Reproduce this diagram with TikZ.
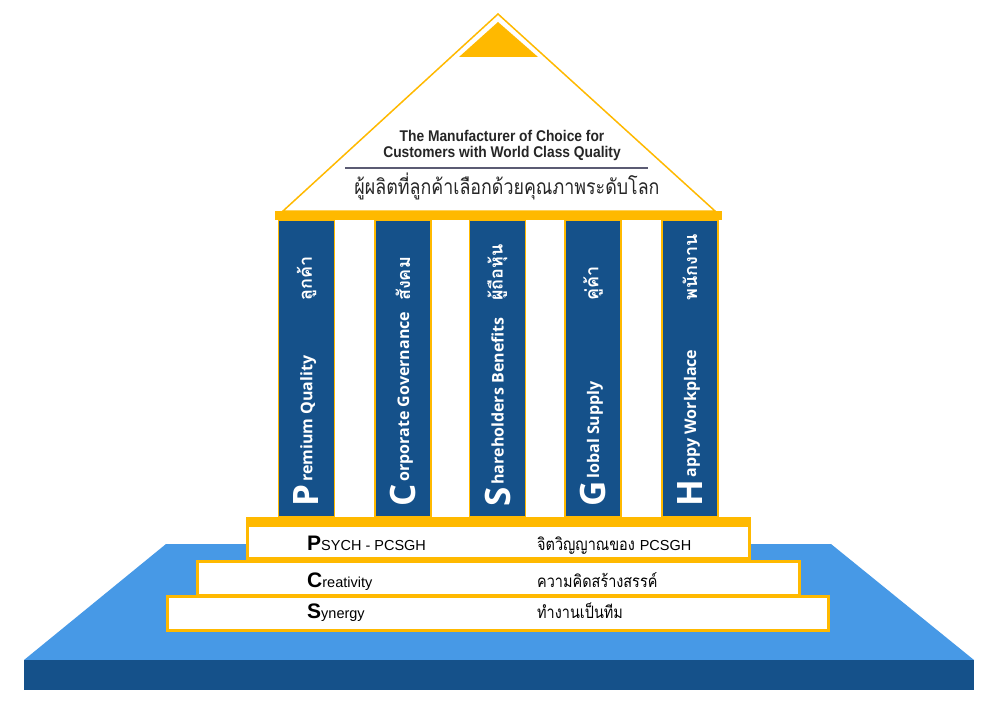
\documentclass[tikz,border=0pt]{standalone}
\usepackage{fontspec}
\usepackage{xcolor}
\setmainfont{Liberation Sans}
\newfontfamily\thaifont[Script=Thai]{Loma}
\newfontfamily\thainarrow[Script=Thai, FakeStretch=0.85]{Loma}
\newfontfamily\pillarfont{Open Sans}
\newfontfamily\narrowfont[FakeStretch=0.89]{Liberation Sans}
\definecolor{gold}{HTML}{FFB900}
\definecolor{navy}{HTML}{15518A}
\definecolor{sky}{HTML}{4799E6}
\definecolor{rulegray}{HTML}{5B5B73}
\newcommand{\pillarname}[2]{{\fontsize{35}{35}\selectfont #1}\hspace{3pt}\raisebox{6.5pt}{#2}}
\newcommand{\stepname}[2]{{\fontsize{21}{21}\selectfont\bfseries #1}#2}

\begin{document}
\begin{tikzpicture}[x=1pt, y=-1pt,
    pillartext/.style = {rotate=90, anchor=west, inner sep=0pt, text=white,
        font=\pillarfont\bfseries\fontsize{16}{16}\selectfont},
    thaipillar/.style = {rotate=90, anchor=west, inner sep=0pt, text=white,
        font=\thaifont\bfseries\fontsize{18}{18}\selectfont},
    steptext/.style = {anchor=base west, inner sep=0pt, font=\fontsize{14.5}{14.5}\selectfont},
    thaistep/.style = {anchor=base west, inner sep=0pt, font=\thainarrow\fontsize{17}{17}\selectfont}]
    \useasboundingbox (0,0) rectangle (1000,709);

    \fill[sky] (166,544) -- (831,544) -- (974,660) -- (24,660) -- cycle;
    \fill[navy] (24,660) rectangle (974,690);

    \begin{scope}[draw=gold, fill=white, line width=3pt]
        \filldraw (167.5,596.5) rectangle (828.5,630);
        \filldraw (197.5,561.5) rectangle (799.5,595);
        \filldraw (247.5,519) rectangle (749.5,558.5);
    \end{scope}
    \fill[gold] (246,517) rectangle (751,527);

    \foreach \cx in {306.5,403,497.5,593,690}
    {
        \filldraw[fill=navy, draw=gold, line width=1.2pt] (\cx-28,220) rectangle (\cx+28,517);
    }

    \filldraw[fill=white, draw=gold, line width=1.5pt] (283,211) -- (498,14) -- (715,211) -- cycle;
    \fill[gold] (498,22) -- (538,57) -- (459,57) -- cycle;
    \fill[gold] (275,211) rectangle (722,220);

    \node[anchor=base, text=black!85, font=\narrowfont\bfseries\fontsize{15.5}{16}\selectfont] (motto1) at (502,141) {The Manufacturer of Choice for};
    \node[anchor=base, text=black!85, font=\narrowfont\bfseries\fontsize{15.5}{16}\selectfont] (motto2) at (502,157) {Customers with World Class Quality};
    \draw[rulegray, line width=1.2pt] (345,168) -- (648,168);
    \node[anchor=base, text=black!85, font=\thainarrow\fontsize{21}{21}\selectfont] (mottoth) at (507,194) {ผู้ผลิตที่ลูกค้าเลือกด้วยคุณภาพระดับโลก};

    \foreach \cx/\ini/\rest/\thai/\nm in {306.5/P/remium Quality/ลูกค้า/prem,
        403/C/orporate Governance/สังคม/corp,
        497.5/S/hareholders Benefits/ผู้ถือหุ้น/share,
        593/G/lobal Supply/คู่ค้า/glob,
        690/H/appy Workplace/พนักงาน/happy}
    {
        \node[pillartext] (\nm-en) at (\cx,507) {\pillarname{\ini}{\rest}};
        \node[thaipillar] (\nm-th) at (\cx,301) {\thai};
    }

    \node[steptext] (psych) at (307,550) {\stepname{P}{SYCH - PCSGH}};
    \node[steptext] (creat) at (307,587) {\stepname{C}{reativity}};
    \node[steptext] (syn) at (307,618) {\stepname{S}{ynergy}};
    \node[thaistep] (psychth) at (537,550) {จิตวิญญาณของ {\rmfamily\fontsize{14.5}{14.5}\selectfont PCSGH}};
    \node[thaistep] (creatth) at (537,587) {ความคิดสร้างสรรค์};
    \node[thaistep] (synth) at (537,618) {ทำงานเป็นทีม};
\end{tikzpicture}
\end{document}
